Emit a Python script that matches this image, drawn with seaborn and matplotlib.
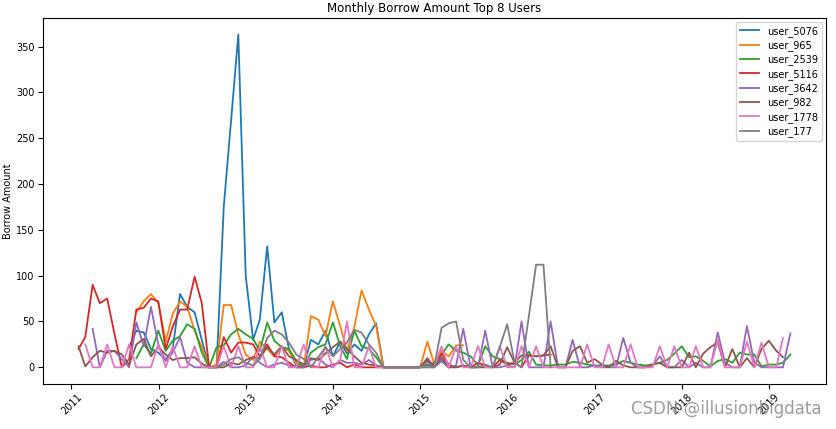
import numpy as np
import pandas as pd
import matplotlib
matplotlib.use("Agg")
import matplotlib.pyplot as plt
import seaborn as sns

months = pd.date_range("2011-01-31", periods=99, freq="ME")

users = ["user_5076", "user_965", "user_2539", "user_5116",
         "user_3642", "user_982", "user_1778", "user_177"]

# first month index (0 = 2011-01) of each user's series
starts = {"user_5076": 7, "user_965": 8, "user_2539": 8, "user_5116": 0,
          "user_3642": 2, "user_982": 0, "user_1778": 1, "user_177": 19}

user_5076 = [22, 40, 38, 20, 16,
             8, 20, 80, 66, 60, 30,
             0, 0, 175, 270, 363, 100,
             30, 52, 132, 49, 60, 20,
             2, 0, 30, 25, 40, 12,
             28, 15, 25, 18, 36, 48,
             0, 0, 0, 0, 0, 0,
             3, 0, 7, 0]

user_965 = [60, 72, 80, 70,
            28, 58, 72, 66, 40, 22,
            0, 3, 68, 68, 36, 14,
            8, 28, 20, 12, 22, 18,
            4, 0, 56, 52, 34, 72,
            45, 18, 44, 84, 63, 45,
            0, 0, 0, 0, 0, 0,
            28, 4, 18, 12, 24, 24]

user_2539 = [10, 25, 15, 40,
             18, 29, 34, 47, 42, 16,
             0, 22, 24, 36, 42, 36,
             31, 18, 49, 29, 22, 20,
             7, 0, 16, 22, 25, 49,
             23, 9, 40, 23, 20, 11,
             0, 0, 0, 0, 0, 0,
             2, 5, 14, 25, 18, 16,
             12, 2, 23, 12, 9, 5,
             3, 8, 17, 3, 2, 2,
             3, 3, 6, 5, 3, 2,
             2, 2, 3, 7, 5, 3,
             2, 3, 5, 8, 15, 23,
             11, 12, 7, 1, 7, 9,
             5, 16, 14, 14, 1, 3,
             3, 5, 14]

user_5116 = [20, 33, 90, 70, 75, 37,
             0, 9, 63, 65, 75, 72,
             20, 44, 63, 63, 99, 70,
             0, 0, 33, 16, 27, 27,
             25, 12, 25, 12, 11, 5,
             0, 0, 2, 0, 0, 3,
             5, 0, 3, 0, 0, 0,
             0, 0, 0, 0, 0, 0,
             8, 2, 15, 3, 0, 2,
             0, 5, 2, 0, 8, 3,
             5, 0, 13, 12, 13, 14]

user_3642 = [42, 0, 18, 18,
             9, 0, 49, 23, 66, 25,
             7, 16, 33, 5, 0, 0,
             0, 0, 6, 0, 0, 2,
             12, 5, 0, 3, 5, 2,
             0, 0, 8, 10, 3, 0,
             8, 5, 5, 3, 8, 2,
             0, 0, 0, 0, 0, 0,
             6, 0, 8, 0, 2, 42,
             0, 0, 40, 0, 0, 2,
             0, 50, 0, 0, 0, 50,
             0, 0, 30, 0, 0, 2,
             0, 0, 0, 32, 5, 0,
             0, 2, 12, 0, 0, 8,
             0, 5, 0, 0, 38, 5,
             0, 0, 45, 5, 0, 0,
             0, 0, 37]

user_982 = [23, 1, 11, 18, 16, 18,
            14, 3, 25, 31, 12, 22,
            14, 8, 10, 10, 11, 4,
            0, 0, 0, 5, 3, 8,
            11, 10, 22, 14, 23, 12,
            8, 3, 10, 8, 15, 22,
            28, 20, 12, 5, 3, 2,
            0, 0, 0, 0, 0, 0,
            10, 0, 11, 0, 0, 2,
            0, 0, 0, 0, 3, 22,
            5, 13, 13, 12, 13, 23,
            0, 0, 18, 23, 5, 9,
            3, 0, 7, 2, 0, 0,
            0, 3, 5, 0, 0, 0,
            16, 0, 15, 22, 27, 0,
            20, 0, 10, 0, 20, 29,
            18, 11]

user_1778 = [25, 0, 0, 25, 0,
             0, 25, 0, 0, 0, 25,
             0, 23, 0, 0, 23, 0,
             0, 0, 23, 0, 23, 0,
             0, 23, 0, 0, 23, 0,
             0, 25, 0, 0, 23, 0,
             8, 50, 0, 0, 23, 0,
             0, 0, 0, 0, 0, 0,
             0, 0, 23, 0, 23, 0,
             0, 23, 0, 0, 23, 0,
             0, 23, 0, 23, 0, 0,
             0, 0, 0, 0, 25, 0,
             0, 25, 0, 0, 25, 0,
             0, 0, 23, 0, 23, 0,
             0, 23, 0, 0, 30, 0,
             0, 0, 28, 0, 27, 0,
             0, 32]

user_177 = [0, 3, 9, 11, 5,
            2, 9, 32, 40, 36, 27,
            14, 9, 0, 11, 22, 12,
            20, 27, 41, 38, 25, 16,
            0, 0, 0, 0, 0, 0,
            0, 0, 43, 48, 50, 8,
            0, 0, 3, 0, 22, 47,
            5, 0, 56, 112, 112, 0]

series = {"user_5076": user_5076, "user_965": user_965, "user_2539": user_2539,
          "user_5116": user_5116, "user_3642": user_3642, "user_982": user_982,
          "user_1778": user_1778, "user_177": user_177}

rows = []
for u in users:
    s = starts[u]
    for k, v in enumerate(series[u]):
        rows.append({"month": months[s + k], "amount": v, "user": u})
df = pd.DataFrame(rows)

fig = plt.figure(figsize=(8.36, 4.29), dpi=100)
ax = fig.add_axes([0.0514, 0.105, 0.9366, 0.853])

sns.lineplot(data=df, x="month", y="amount", hue="user", hue_order=users,
             palette="tab10", linewidth=1.3, ax=ax)

ax.set_title("Monthly Borrow Amount Top 8 Users", fontsize=8.5, pad=4)
ax.set_ylabel("Borrow Amount", fontsize=7, labelpad=2)
ax.set_xlabel("")
ax.tick_params(axis="both", labelsize=7, pad=2.5)
plt.setp(ax.get_xticklabels(), rotation=45)

handles, labels = ax.get_legend_handles_labels()
ax.legend(handles, labels, loc="upper right", fontsize=7, framealpha=0.8,
          labelspacing=0.35, handlelength=2.0, borderaxespad=0.4)

fig.text(0.983, 0.025, "CSDN @illusionbigdata", ha="right", va="bottom",
         fontsize=12, color="#8c8c8c", alpha=0.85)

fig.savefig("out.png", dpi=100)
